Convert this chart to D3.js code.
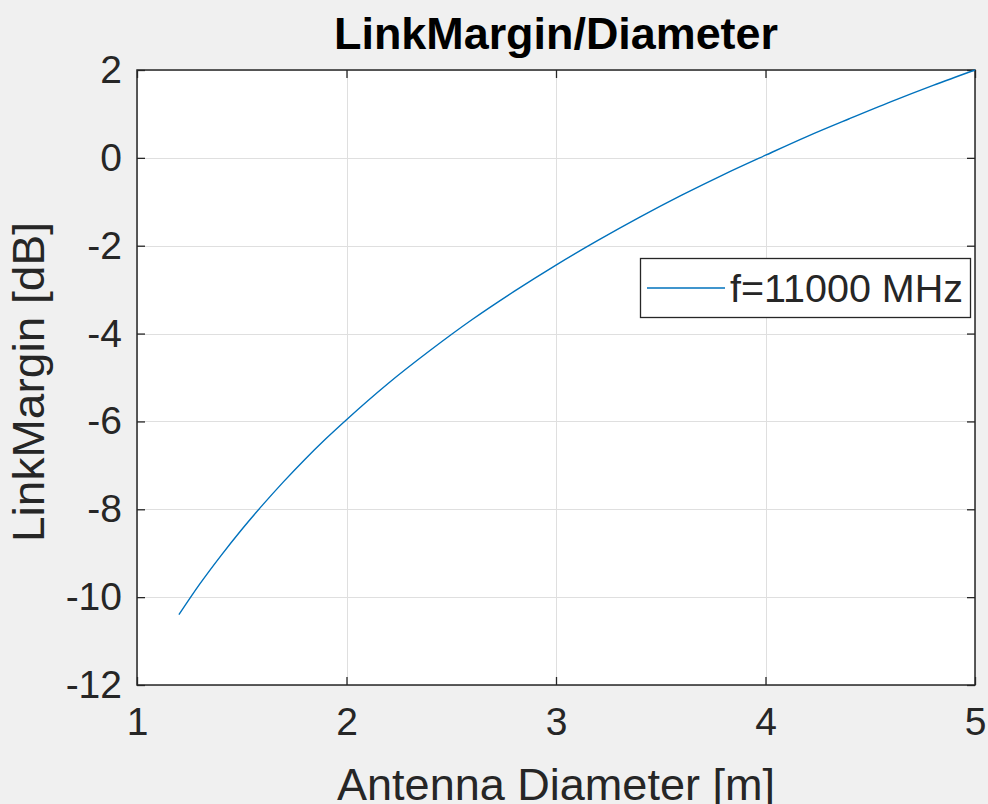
<!DOCTYPE html>
<html>
<head>
<meta charset="utf-8">
<script src="https://cdn.jsdelivr.net/npm/d3@7"></script>
<style>
  html, body { margin: 0; padding: 0; background: #f0f0f0; }
  svg { display: block; }
  text { font-family: "Liberation Sans", Arial, Helvetica, sans-serif; fill: #262626; }
</style>
</head>
<body>
<svg id="chart" width="988" height="804"></svg>
<script>
// Antenna diameter [m] and resulting link margin [dB] at 11 GHz
const diameters = [1.2, 1.3, 1.4, 1.5, 1.6, 1.7, 1.8, 1.9, 2.0, 2.2, 2.4, 2.6, 2.8, 3.0, 3.2, 3.4, 3.6, 3.8, 4.0, 4.2, 4.4, 4.6, 4.8, 5.0];
const linkMargin = [-10.40, -9.70, -9.06, -8.46, -7.90, -7.37, -6.87, -6.40, -5.96, -5.13, -4.38, -3.68, -3.04, -2.44, -1.88, -1.35, -0.85, -0.38, 0.06, 0.49, 0.89, 1.28, 1.65, 2.00];
const xTicks = [1, 2, 3, 4, 5];
const yTicks = [-12, -10, -8, -6, -4, -2, 0, 2];
const seriesName = "f=11000 MHz";

const svg = d3.select("#chart");
const m = { left: 137, right: 975, top: 70, bottom: 685 };

const x = d3.scaleLinear().domain([1, 5]).range([m.left, m.right]);
const y = d3.scaleLinear().domain([-12, 2]).range([m.bottom, m.top]);

// plain hyphen-minus tick labels
const fmt = d => String(d);

// plot background
svg.append("rect")
  .attr("x", m.left).attr("y", m.top)
  .attr("width", m.right - m.left).attr("height", m.bottom - m.top)
  .attr("fill", "#ffffff");

// grid
const grid = svg.append("g").attr("stroke", "#dfdfdf").attr("stroke-width", 1);
grid.selectAll("line.gx").data(xTicks).join("line")
  .attr("x1", d => Math.round(x(d)) + 0.5).attr("x2", d => Math.round(x(d)) + 0.5)
  .attr("y1", m.top).attr("y2", m.bottom);
grid.selectAll("line.gy").data(yTicks).join("line")
  .attr("y1", d => Math.round(y(d)) + 0.5).attr("y2", d => Math.round(y(d)) + 0.5)
  .attr("x1", m.left).attr("x2", m.right);

// axes with inward ticks, mirrored on top and right
const tickLen = 8;
const axisColor = "#262626";
function styleAxis(g) {
  g.select(".domain").remove();
  g.selectAll(".tick line").attr("stroke", axisColor).attr("stroke-width", 1.3);
  g.selectAll(".tick text").attr("fill", axisColor).style("font-size", "39px")
    .style("font-family", "'Liberation Sans', Arial, sans-serif");
}
const xAxis = svg.append("g").attr("transform", `translate(0,${m.bottom})`)
  .call(d3.axisBottom(x).tickValues(xTicks).tickFormat(fmt).tickSizeInner(-tickLen).tickPadding(22))
  .call(styleAxis);
xAxis.selectAll(".tick text").attr("dy", "0.71em");

svg.append("g").attr("transform", `translate(0,${m.top})`)
  .call(d3.axisTop(x).tickValues(xTicks).tickFormat("").tickSizeInner(-tickLen))
  .call(styleAxis);

svg.append("g").attr("transform", `translate(${m.left},0)`)
  .call(d3.axisLeft(y).tickValues(yTicks).tickFormat(fmt).tickSizeInner(-tickLen).tickPadding(15))
  .call(styleAxis);

svg.append("g").attr("transform", `translate(${m.right},0)`)
  .call(d3.axisRight(y).tickValues(yTicks).tickFormat("").tickSizeInner(-tickLen))
  .call(styleAxis);

// axes box
svg.append("rect")
  .attr("x", m.left).attr("y", m.top)
  .attr("width", m.right - m.left).attr("height", m.bottom - m.top)
  .attr("fill", "none").attr("stroke", axisColor).attr("stroke-width", 1.5);

// data line
const line = d3.line()
  .x((d, i) => x(diameters[i]))
  .y(d => y(d))
  .curve(d3.curveMonotoneX);
svg.append("path")
  .datum(linkMargin)
  .attr("d", line)
  .attr("fill", "none")
  .attr("stroke", "#0072bd")
  .attr("stroke-width", 1.4);

// legend
const lg = svg.append("g");
lg.append("rect")
  .attr("x", 640.5).attr("y", 258.5).attr("width", 330).attr("height", 59)
  .attr("fill", "#ffffff").attr("stroke", axisColor).attr("stroke-width", 1.3);
lg.append("line")
  .attr("x1", 647).attr("x2", 725).attr("y1", 288).attr("y2", 288)
  .attr("stroke", "#0072bd").attr("stroke-width", 1.4);
lg.append("text")
  .attr("x", 730).attr("y", 302)
  .attr("textLength", 233).attr("lengthAdjust", "spacingAndGlyphs")
  .style("font-size", "39px")
  .text(seriesName);

// title
svg.append("text")
  .attr("x", (m.left + m.right) / 2).attr("y", 49)
  .attr("text-anchor", "middle")
  .attr("textLength", 444).attr("lengthAdjust", "spacingAndGlyphs")
  .style("font-size", "44px").style("font-weight", "bold")
  .style("fill", "#000000")
  .text("LinkMargin/Diameter");

// axis labels
svg.append("text")
  .attr("x", 556).attr("y", 800)
  .attr("text-anchor", "middle")
  .attr("textLength", 438).attr("lengthAdjust", "spacingAndGlyphs")
  .style("font-size", "45px")
  .text("Antenna Diameter [m]");

svg.append("text")
  .attr("transform", `translate(44,382) rotate(-90)`)
  .attr("text-anchor", "middle")
  .attr("textLength", 320).attr("lengthAdjust", "spacingAndGlyphs")
  .style("font-size", "44px")
  .text("LinkMargin [dB]");
</script>
</body>
</html>
